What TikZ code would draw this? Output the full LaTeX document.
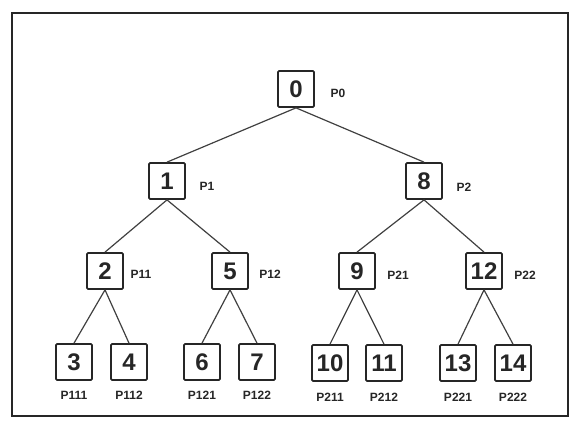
\documentclass[tikz,border=0pt]{standalone}
\usepackage{fontspec}
\setmainfont{Liberation Sans}
\begin{document}
\begin{tikzpicture}[x=0.75pt,y=-0.75pt,
    box/.style={draw=black!85,line width=1.3pt,minimum size=27pt,inner sep=0pt,
      rounded corners=0.8pt,font=\bfseries\fontsize{18}{18}\selectfont,text=black!85},
    tag/.style={font=\bfseries\fontsize{9}{9}\selectfont,text=black!85}]
  \useasboundingbox (0,0) rectangle (573,425);
  \draw[line width=1.5pt,black!85] (12,13) rectangle (568,416);
  % process tree
  \draw
    (296,89) node[box] (0){0}
    (167,181) node[box] (1){1}
    (424,181) node[box] (8){8}
    (105,271) node[box] (2){2}
    (230,271) node[box] (5){5}
    (357,271) node[box] (9){9}
    (484,271) node[box] (12){12}
    (74,362) node[box] (3){3}
    (129,362) node[box] (4){4}
    (202,362) node[box] (6){6}
    (257,362) node[box] (7){7}
    (330,363) node[box] (10){10}
    (384,363) node[box] (11){11}
    (458,363) node[box] (13){13}
    (513,363) node[box] (14){14};
  % processor tags
  \draw
    (338,93) node[tag] (p0){P0}
    (207,186) node[tag] (p1){P1}
    (464,187) node[tag] (p2){P2}
    (141,274) node[tag] (p11){P11}
    (270,274) node[tag] (p12){P12}
    (398,275) node[tag] (p21){P21}
    (525,275) node[tag] (p22){P22}
    (74,395) node[tag] (p111){P111}
    (129,395) node[tag] (p112){P112}
    (202,395) node[tag] (p121){P121}
    (257,395) node[tag] (p122){P122}
    (330,397) node[tag] (p211){P211}
    (384,397) node[tag] (p212){P212}
    (458,397) node[tag] (p221){P221}
    (513,397) node[tag] (p222){P222};
  \begin{scope}[black!75,line width=0.9pt]
    \draw (0.south) to (1.north);
    \draw (0.south) to (8.north);
    \draw (1.south) to (2.north);
    \draw (1.south) to (5.north);
    \draw (8.south) to (9.north);
    \draw (8.south) to (12.north);
    \draw (2.south) to (3.north);
    \draw (2.south) to (4.north);
    \draw (5.south) to (6.north);
    \draw (5.south) to (7.north);
    \draw (9.south) to (10.north);
    \draw (9.south) to (11.north);
    \draw (12.south) to (13.north);
    \draw (12.south) to (14.north);
  \end{scope}
\end{tikzpicture}
\end{document}
